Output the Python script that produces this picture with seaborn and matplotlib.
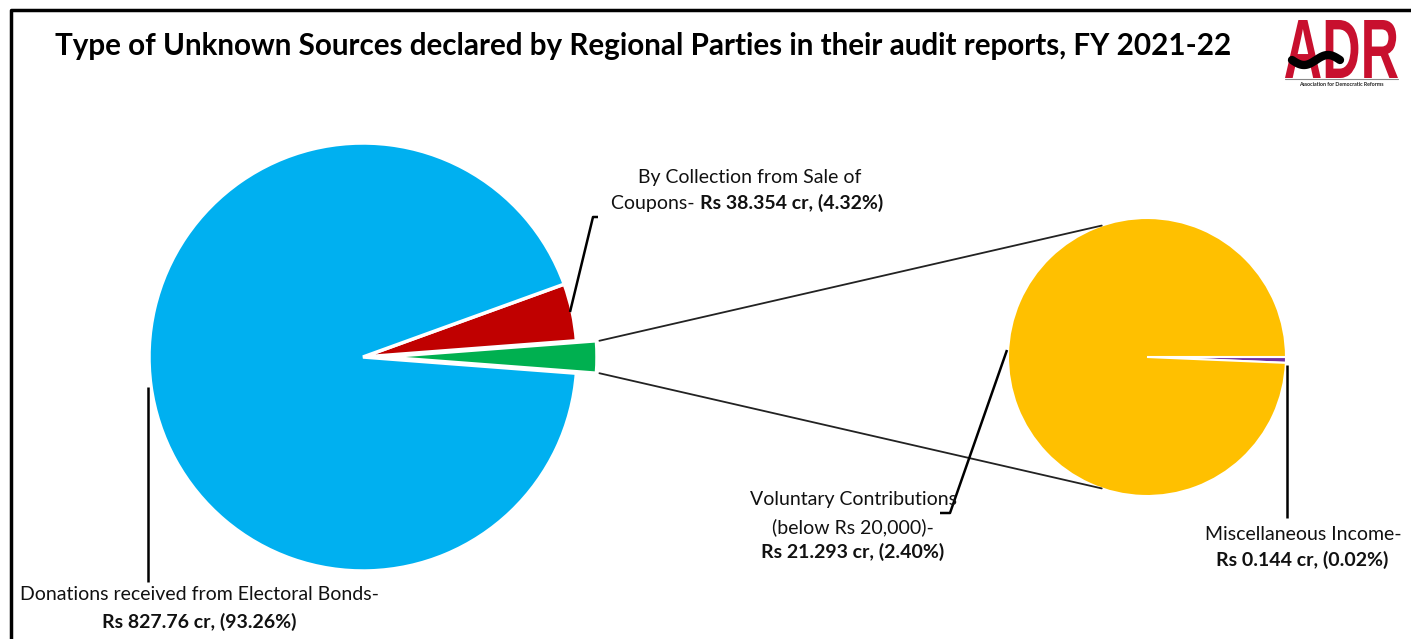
import numpy as np
import matplotlib
matplotlib.use("Agg")
import matplotlib.pyplot as plt
import seaborn as sns
from matplotlib.textpath import TextPath
from matplotlib.patches import PathPatch
from matplotlib.font_manager import FontProperties
from matplotlib.transforms import Affine2D

# data (Rs crore)
main_labels = ["Donations received from Electoral Bonds", "By Collection from Sale of Coupons", "Other"]
main_values = [827.76, 38.354]
sub_labels = ["Voluntary Contributions (below Rs 20,000)", "Miscellaneous Income"]
sub_values = [21.293, 0.144]
pct = [93.26, 4.32, 2.40, 0.02]

other_value = sum(sub_values)

sns.set_theme(style="white")
plt.rcParams['font.family'] = ['Lato', 'DejaVu Sans']

colors = {"bonds": "#00B0F0", "coupons": "#C00000", "other": "#00B050",
          "voluntary": "#FFC000", "misc": "#7030A0"}

W, H = 1411, 639
fig = plt.figure(figsize=(W / 100, H / 100), dpi=100)
ax = fig.add_axes([0, 0, 1, 1])

def Y(y):
    # image row -> axis y (y up)
    return H - y

# main pie: other (exploded) centred on 0 deg, then coupons, then bonds
c1, r1 = (363, Y(357)), 214
vals1 = [other_value, main_values[1], main_values[0]]
frac_other = other_value / sum(vals1)
start1 = -180 * frac_other
ax.pie(vals1, colors=[colors["other"], colors["coupons"], colors["bonds"]],
       startangle=start1, counterclock=True, center=c1, radius=r1,
       explode=[20, 0, 0], wedgeprops=dict(edgecolor="white", linewidth=2.5))

# secondary pie
c2, r2 = (1147, Y(357)), 139
ax.pie([sub_values[1], sub_values[0]], colors=[colors["misc"], colors["voluntary"]],
       startangle=0, counterclock=False, center=c2, radius=r2,
       wedgeprops=dict(edgecolor="white", linewidth=1.5))

# connector lines between the two pies
half = np.deg2rad(180 * frac_other)
ex = c1[0] + 20
for s in (1, -1):
    x0 = ex + r1 * np.cos(half) + 3
    y0 = c1[1] + s * r1 * np.sin(half)
    a = np.deg2rad(s * 109)
    x1 = c2[0] + r2 * np.cos(a)
    y1 = c2[1] + r2 * np.sin(a)
    ax.plot([x0, x1], [y0, y1], color="#222222", lw=1.3)

# leader lines
lk = dict(color="black", lw=1.8, solid_capstyle="butt")
ax.plot([148, 148], [Y(387), Y(582)], **lk)
ax.plot([598, 593, 570], [Y(217), Y(217), Y(312)], **lk)
ax.plot([1007, 950, 940], [Y(350), Y(513), Y(513)], **lk)
ax.plot([1287, 1287], [Y(365), Y(518)], **lk)

fs = 14
def txt(x, y, s, bold=False, ha="center"):
    ax.text(x, Y(y), s, fontsize=fs, ha=ha, va="center",
            fontweight="bold" if bold else "normal", color="#111111")

txt(199, 595, "Donations received from Electoral Bonds-")
txt(199, 622, f"Rs {main_values[0]:.2f} cr, ({pct[0]:.2f}%)", bold=True)

txt(750, 177, "By Collection from Sale of")
txt(700, 203, "Coupons- ", ha="right")
txt(700, 203, f"Rs {main_values[1]:.3f} cr, ({pct[1]:.2f}%)", bold=True, ha="left")

txt(853, 500, "Voluntary Contributions")
txt(853, 527, "(below Rs 20,000)-")
txt(853, 552, f"Rs {sub_values[0]:.3f} cr, ({pct[2]:.2f}%)", bold=True)

txt(1303, 535, "Miscellaneous Income-")
txt(1302, 560, f"Rs {sub_values[1]:.3f} cr, ({pct[3]:.2f}%)", bold=True)

# title
ax.text(55, Y(46), "Type of Unknown Sources declared by Regional Parties in their audit reports, FY 2021-22",
        fontsize=21.3, fontweight="bold", ha="left", va="center", color="black")

# ADR logo (condensed letters)
tp = TextPath((0, 0), "ADR", size=100, prop=FontProperties(family="Liberation Sans", weight="bold"))
bb = tp.get_extents()
sx = 113 / bb.width
sy = 58 / bb.height
tr = Affine2D().translate(-bb.x0, -bb.y0).scale(sx, sy).translate(1285, Y(78))
ax.add_patch(PathPatch(tr.transform_path(tp), facecolor="#C8102E", edgecolor="none"))
tt = np.linspace(0, 1, 40)
ax.plot(1292 + 48 * tt, Y(60) + 5 * np.sin(tt * 2 * np.pi + np.pi), color="black", lw=6,
        solid_capstyle="round")
ax.plot([1285, 1398], [Y(79), Y(79)], color="#888888", lw=0.8)
ax.text(1341, Y(84), "Association for Democratic Reforms", fontsize=3.8, fontweight="bold",
        ha="center", va="center", color="#222222")

# chart frame
ax.plot([11, 11, W + 5], [-5, Y(10), Y(10)], color="black", lw=2.5, clip_on=False)

ax.set_xlim(0, W)
ax.set_ylim(0, H)
ax.set_aspect("equal")
ax.axis("off")

fig.savefig("out.png", dpi=100, facecolor="white")
